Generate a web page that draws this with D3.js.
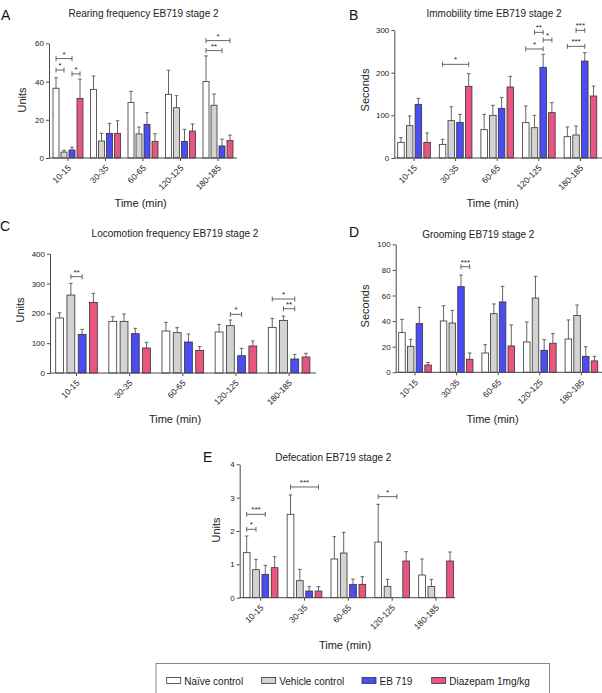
<!DOCTYPE html>
<html>
<head>
<meta charset="utf-8">
<script src="https://cdn.jsdelivr.net/npm/d3@7/dist/d3.min.js"></script>
<style>
  body { margin: 0; background: #fff; }
  svg { display: block; font-family: "Liberation Sans", Arial, Helvetica, sans-serif; }
</style>
</head>
<body>
<svg id="chart" width="602" height="693"></svg>
<script>
// ---------------- DATA ----------------
const groups = ["10-15", "30-35", "60-65", "120-125", "180-185"];
const seriesNames = ["Naïve control", "Vehicle control", "EB 719", "Diazepam 1mg/kg"];

// means [group][series], upper SEM [group][series]
const rearingMean = [[36.5, 3.1, 4.2, 31.2], [35.9, 8.9, 12.9, 12.9], [29, 12.6, 17.6, 8.7], [33.3, 26.3, 8.7, 14.1], [40, 27.6, 6.3, 9.2]];
const rearingSEM  = [[5.5, 0.9, 1.4, 10.1], [7, 4, 5.2, 6.6], [5.9, 3.6, 6.1, 4], [12.6, 6.3, 6.3, 3.7], [13.4, 5.9, 3.6, 2.8]];
const rearingTicks = [0, 20, 40, 60];
// significance: [group, fromSeries, toSeries, yValue, label]
const rearingSig = [[0, 0, 2, 52, "*"], [0, 0, 1, 46, "*"], [0, 2, 3, 44, "*"], [4, 0, 3, 61.4, "*"], [4, 0, 2, 56.2, "**"]];

const immobilityMean = [[36.7, 75.8, 125.8, 36.7], [32, 87.5, 83.6, 168], [66.4, 100, 116.4, 166.4], [82.8, 71, 212.5, 106.3], [50, 54, 227.3, 145.3]];
const immobilitySEM  = [[11, 22.6, 14, 21.9], [11.8, 32.5, 18.7, 29.7], [35.9, 23.4, 25.6, 25], [39.1, 29, 30.5, 23.4], [22.7, 21, 19.6, 23.4]];
const immobilityTicks = [0, 100, 200, 300];
const immobilitySig = [[1, 0, 3, 219.5, "*"], [3, 0, 2, 255.5, "*"], [3, 1, 2, 294.5, "**"], [3, 2, 3, 276.6, "*"], [4, 0, 2, 261.7, "***"], [4, 1, 2, 299.2, "***"]];

const locomotionMean = [[184.4, 261.5, 129.6, 236.9], [173.2, 173.2, 131.8, 83.8], [140.8, 135.2, 103.9, 76], [137.4, 158.7, 58, 90.5], [153, 176.5, 47, 53.6]];
const locomotionSEM  = [[17.6, 39.1, 16.8, 30.1], [15.6, 24.6, 17.9, 19], [29, 16.8, 26.8, 12.3], [25.6, 19, 24.7, 16.8], [30.2, 14.5, 15.6, 12.4]];
const locomotionTicks = [0, 100, 200, 300, 400];
const locomotionSig = [[0, 1, 2, 323, "**"], [3, 1, 2, 196.6, "*"], [4, 0, 2, 248, "*"], [4, 1, 2, 215.6, "**"]];

const groomingMean = [[31, 20.3, 38, 5.7], [40.1, 38.5, 66.9, 10.2], [15.1, 45.8, 55, 20.6], [23.7, 58, 17.2, 22.7], [26, 44.3, 12.5, 8.9]];
const groomingSEM  = [[10.4, 5.5, 12.8, 1.9], [11.9, 9.9, 9.1, 4.9], [6.5, 7.6, 12.2, 16.4], [15.6, 17, 8.3, 7.5], [14.9, 8.3, 7.5, 3.6]];
const groomingTicks = [0, 20, 40, 60, 80, 100];
const groomingSig = [[1, 2, 3, 82.5, "***"]];

const defecationMean = [[1.35, 0.84, 0.7, 0.9], [2.5, 0.51, 0.2, 0.2], [1.16, 1.34, 0.4, 0.4], [1.67, 0.34, 0, 1.1], [0.68, 0.34, 0, 1.1]];
const defecationSEM  = [[0.5, 0.31, 0.27, 0.33], [0.58, 0.34, 0.13, 0.13], [0.67, 0.62, 0.16, 0.23], [1.13, 0.21, 0, 0.28], [0.48, 0.21, 0, 0.27]];
const defecationTicks = [0, 1, 2, 3, 4];
const defecationSig = [[0, 0, 2, 2.5, "***"], [0, 0, 1, 2.05, "*"], [1, 0, 3, 3.32, "***"], [3, 0, 2, 3.03, "*"]];

// ---------------- STYLE ----------------
const colors = ["#ffffff", "#d3d3d3", "#4b4cf2", "#ea5580"];
const axisColor = "#4a4a4a";
const textColor = "#222";

const svg = d3.select("#chart");

const panels = [
  { letter: "A", lx: 1, ly: 20, title: "Rearing frequency EB719 stage 2", tx: 143.5, ty: 17,
    ylabel: "Units", ylx: 26, yly: 100, xlx: 140.7, xly: 207,
    mean: rearingMean, sem: rearingSEM, ticks: rearingTicks, sig: rearingSig,
    left: 49, y0: 158, yTop: 43.3, bandStart: 53, step: 37.5, pi: 0.2, ipi: 0.25, axisEnd: 237 },
  { letter: "B", lx: 349, ly: 20, title: "Immobility time EB719 stage 2", tx: 494, ty: 17,
    ylabel: "Seconds", ylx: 369, yly: 90, xlx: 492.5, xly: 207,
    mean: immobilityMean, sem: immobilitySEM, ticks: immobilityTicks, sig: immobilitySig,
    left: 394.3, y0: 158, yTop: 30, bandStart: 397.7, step: 41.6, pi: 0.215, ipi: 0.25, axisEnd: 602 },
  { letter: "C", lx: 0, ly: 231, title: "Locomotion frequency EB719 stage 2", tx: 175, ty: 237,
    ylabel: "Units", ylx: 24, yly: 310, xlx: 175, xly: 423,
    mean: locomotionMean, sem: locomotionSEM, ticks: locomotionTicks, sig: locomotionSig,
    left: 50, y0: 373, yTop: 253.7, bandStart: 55.7, step: 53.15, pi: 0.217, ipi: 0.3, axisEnd: 316 },
  { letter: "D", lx: 349, ly: 237, title: "Grooming EB719 stage 2", tx: 478.3, ty: 238,
    ylabel: "Seconds", ylx: 369, yly: 306, xlx: 492.5, xly: 423,
    mean: groomingMean, sem: groomingSEM, ticks: groomingTicks, sig: groomingSig,
    left: 395.7, y0: 372.3, yTop: 244.3, bandStart: 398.7, step: 41.6, pi: 0.215, ipi: 0.25, axisEnd: 602 },
  { letter: "E", lx: 203, ly: 462, title: "Defecation EB719 stage 2", tx: 333.3, ty: 461,
    ylabel: "Units", ylx: 220, yly: 530, xlx: 345, xly: 649,
    mean: defecationMean, sem: defecationSEM, ticks: defecationTicks, sig: defecationSig,
    left: 239.7, y0: 597.7, yTop: 464.3, bandStart: 243.3, step: 43.85, pi: 0.209, ipi: 0.28, axisEnd: 455 }
];

panels.forEach(p => {
  const g = svg.append("g");
  const n = groups.length;
  const x = d3.scaleBand().domain(groups)
    .range([p.bandStart, p.bandStart + p.step * (n - p.pi)])
    .paddingInner(p.pi).paddingOuter(0);
  const xs = d3.scaleBand().domain(d3.range(seriesNames.length))
    .range([0, x.bandwidth()]).paddingInner(p.ipi).paddingOuter(0);
  const ymax = p.ticks[p.ticks.length - 1];
  const y = d3.scaleLinear().domain([0, ymax]).range([p.y0, p.yTop]);

  // panel letter & title
  g.append("text").attr("x", p.lx).attr("y", p.ly).attr("font-size", 14).attr("fill", "#111").text(p.letter);
  g.append("text").attr("x", p.tx).attr("y", p.ty).attr("text-anchor", "middle")
    .attr("font-size", 10).attr("fill", textColor).text(p.title);

  // bars
  const rows = [];
  p.mean.forEach((row, gi) => row.forEach((v, si) => rows.push({ gi, si, v, e: p.sem[gi][si] })));
  const barsG = g.append("g");
  rows.filter(d => d.v > 0).forEach(d => {
    const bx = x(groups[d.gi]) + xs(d.si);
    const cx = bx + xs.bandwidth() / 2;
    if (d.e > 0) {
      barsG.append("line").attr("x1", cx).attr("x2", cx).attr("y1", y(d.v)).attr("y2", y(d.v + d.e))
        .attr("stroke", "#555").attr("stroke-width", 0.9);
      barsG.append("line").attr("x1", cx - 1.8).attr("x2", cx + 1.8).attr("y1", y(d.v + d.e)).attr("y2", y(d.v + d.e))
        .attr("stroke", "#555").attr("stroke-width", 0.9);
    }
    barsG.append("rect").attr("x", bx).attr("y", y(d.v)).attr("width", xs.bandwidth())
      .attr("height", y(0) - y(d.v)).attr("fill", colors[d.si])
      .attr("stroke", "#333").attr("stroke-width", 0.8);
  });

  // y axis
  const ya = g.append("g").attr("transform", `translate(${p.left},0)`)
    .call(d3.axisLeft(y).tickValues(p.ticks).tickFormat(d3.format("~g")).tickSize(3).tickSizeOuter(0).tickPadding(2));
  ya.selectAll("path,line").attr("stroke", axisColor);
  ya.selectAll("text").attr("font-size", 8).attr("fill", textColor).attr("font-family", null);

  // x axis
  g.append("line").attr("x1", p.left).attr("x2", p.axisEnd).attr("y1", p.y0).attr("y2", p.y0)
    .attr("stroke", axisColor).attr("stroke-width", 1);
  const xa = g.append("g").attr("transform", `translate(0,${p.y0})`)
    .call(d3.axisBottom(x).tickSize(3).tickSizeOuter(0));
  xa.select(".domain").remove();
  xa.selectAll("line").attr("stroke", axisColor);
  xa.selectAll("text").attr("font-size", 8.5).attr("fill", textColor).attr("font-family", null)
    .attr("text-anchor", "end").attr("dy", null).attr("y", 0)
    .attr("transform", "translate(3.5,10.5) rotate(-45)");

  // axis labels
  g.append("text").attr("x", p.xlx).attr("y", p.xly).attr("text-anchor", "middle")
    .attr("font-size", 11).attr("fill", textColor).text("Time (min)");
  g.append("text").attr("transform", `translate(${p.ylx},${p.yly}) rotate(-90)`)
    .attr("text-anchor", "middle").attr("font-size", 11).attr("fill", textColor).text(p.ylabel);

  // significance brackets
  p.sig.forEach(([gi, a, b, v, lab]) => {
    const x1 = x(groups[gi]) + xs(a) + xs.bandwidth() / 2;
    const x2 = x(groups[gi]) + xs(b) + xs.bandwidth() / 2;
    const yy = y(v);
    const sg = g.append("g").attr("stroke", "#555").attr("stroke-width", 0.9);
    sg.append("line").attr("x1", x1).attr("x2", x2).attr("y1", yy).attr("y2", yy);
    sg.append("line").attr("x1", x1).attr("x2", x1).attr("y1", yy - 2.5).attr("y2", yy + 2.5);
    sg.append("line").attr("x1", x2).attr("x2", x2).attr("y1", yy - 2.5).attr("y2", yy + 2.5);
    g.append("text").attr("x", (x1 + x2) / 2).attr("y", yy - 2).attr("text-anchor", "middle")
      .attr("font-size", 8).attr("fill", textColor).text(lab);
  });
});

// ---------------- LEGEND ----------------
const leg = svg.append("g");
leg.append("rect").attr("x", 156).attr("y", 663.5).attr("width", 393.5).attr("height", 40)
  .attr("fill", "none").attr("stroke", "#888").attr("stroke-width", 1);
const legX = [166.7, 261.7, 362, 431.7];
seriesNames.forEach((name, i) => {
  leg.append("rect").attr("x", legX[i]).attr("y", 677.5).attr("width", 14).attr("height", 6)
    .attr("fill", colors[i]).attr("stroke", "#333").attr("stroke-width", 0.8);
  leg.append("text").attr("x", legX[i] + 17.5).attr("y", 684.5).attr("font-size", 10)
    .attr("fill", textColor).text(name);
});
</script>
</body>
</html>
